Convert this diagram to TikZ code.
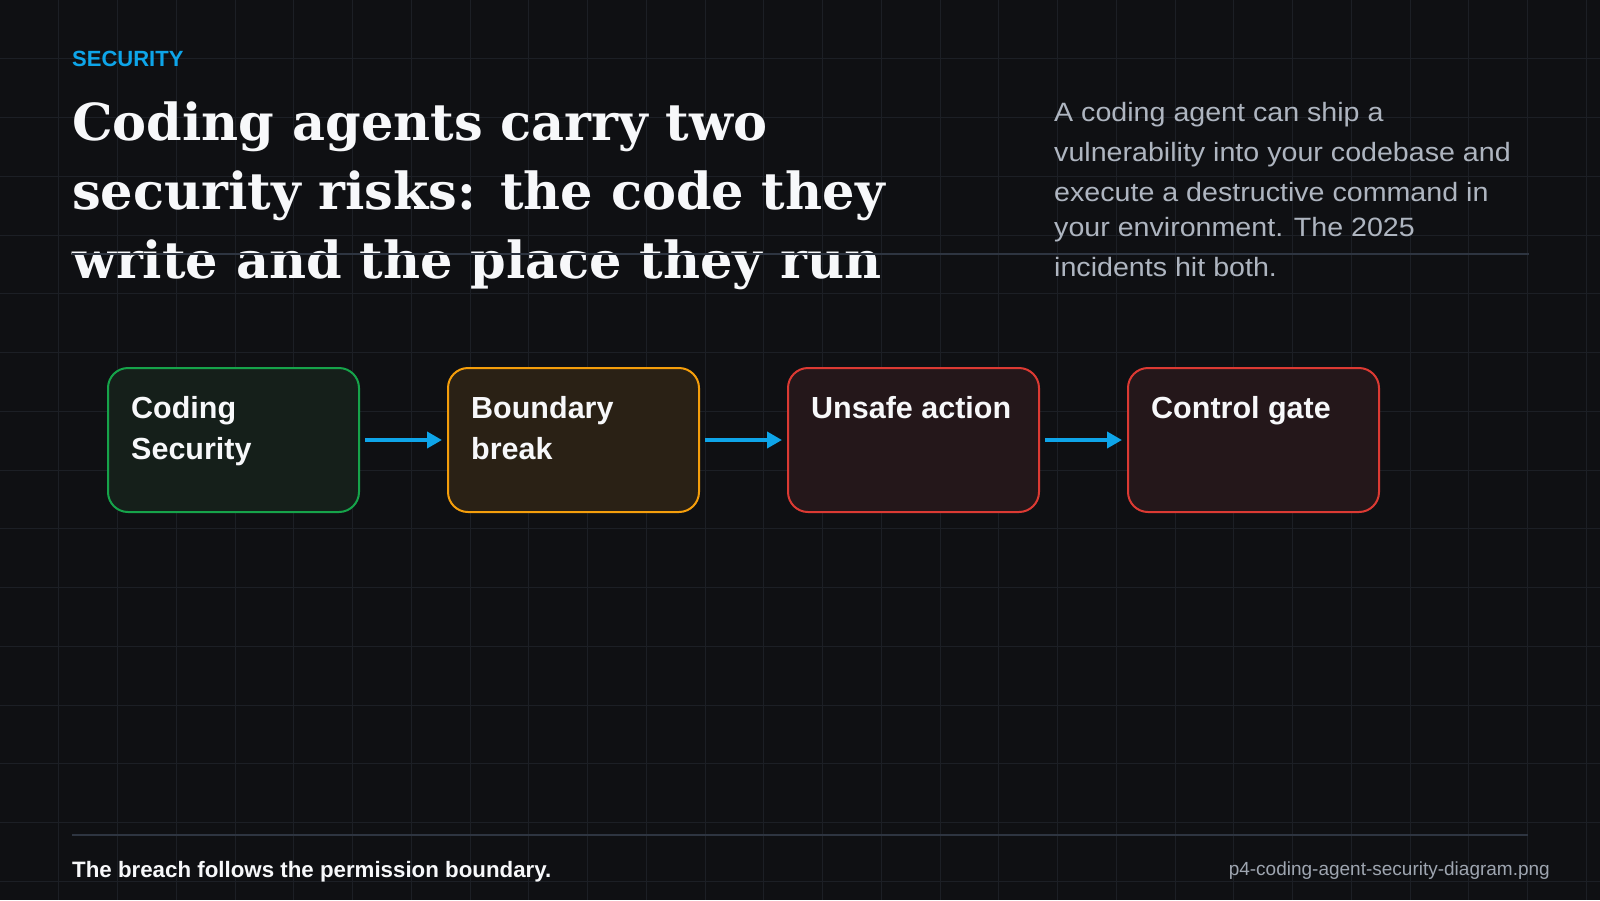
\documentclass[tikz,border=0pt]{standalone}
\usepackage{fontspec}
\setmainfont{Liberation Sans}
\newfontfamily\titlefont{DejaVu Serif}
\newfontfamily\parafont[FakeStretch=1.08]{Liberation Sans}
\usepackage{tikz}
\usetikzlibrary{arrows.meta,positioning}
\definecolor{bgdark}{HTML}{0F1013}
\definecolor{gridgrey}{HTML}{1C1F25}
\definecolor{rulegrey}{HTML}{2E3541}
\definecolor{skyblue}{HTML}{0EA5E9}
\definecolor{paragrey}{HTML}{AEB5C0}
\definecolor{notegrey}{HTML}{9EA5B0}
\definecolor{offwhite}{HTML}{F7F8FA}
\definecolor{okgreen}{HTML}{16A34A}
\definecolor{okgreenbg}{HTML}{151F1A}
\definecolor{warnorange}{HTML}{F59E0B}
\definecolor{warnorangebg}{HTML}{2A2115}
\definecolor{riskred}{HTML}{DC3A33}
\definecolor{riskredbg}{HTML}{24171A}

\begin{document}
\begin{tikzpicture}[x=1pt,y=-1pt,
    gridline/.style={draw=gridgrey,line width=1pt},
    stepbox/.style={rectangle,rounded corners=20pt,line width=2pt,
      minimum width=251pt,minimum height=144pt,inner sep=0pt},
    boxtext/.style={anchor=base west,inner sep=0pt,align=left,text=offwhite,
      font=\fontsize{30.5}{41}\selectfont\bfseries},
    flow/.style={draw=skyblue,line width=4pt,shorten <=5pt,shorten >=5pt,
      -{Triangle[length=15pt,width=16pt]}}]
  % background
  \fill[bgdark] (0,0) rectangle (1600,900);
  \useasboundingbox (0,0) rectangle (1600,900);
  % grid
  \foreach \i in {1,...,27}
    \draw[gridline] (\i*58.75,0) -- (\i*58.75,900);
  \foreach \j in {1,...,15}
    \draw[gridline] (0,\j*58.75) -- (1600,\j*58.75);
  % heading (base of a multi-line node = its last line)
  \node[anchor=base west,inner sep=0pt,text=skyblue,
    font=\fontsize{22}{26}\selectfont\bfseries] (kicker) at (72,66.5) {SECURITY};
  \node[anchor=base west,inner sep=0pt,align=left,text=offwhite,
    font=\titlefont\fontsize{51}{69}\selectfont\bfseries] (title) at (72,278)
    {Coding agents carry two\\security risks: the code they\\write and the place they run};
  \node[anchor=base west,inner sep=0pt,align=left,text=paragrey,
    font=\parafont\fontsize{26.5}{40}\selectfont] (summary) at (1054,276.7)
    {A coding agent can ship a\\vulnerability into your codebase and\\execute a destructive command in\\[-5pt]your environment. The 2025\\incidents hit both.};
  % rules, over the text
  \draw[rulegrey,line width=2pt] (72,254) -- (1529,254);
  \draw[rulegrey,line width=2.5pt] (72,835) -- (1528,835);
  % the four steps
  \node[stepbox,draw=okgreen,fill=okgreenbg] (coding) at (233.5,440) {};
  \node[stepbox,draw=warnorange,fill=warnorangebg,right=87pt of coding] (boundary) {};
  \node[stepbox,draw=riskred,fill=riskredbg,right=87pt of boundary] (unsafe) {};
  \node[stepbox,draw=riskred,fill=riskredbg,right=87pt of unsafe] (gate) {};
  \node[boxtext] (codingtxt) at ([xshift=24pt,yshift=-92pt]coding.north west) {Coding\\Security};
  \node[boxtext] (boundarytxt) at ([xshift=24pt,yshift=-92pt]boundary.north west) {Boundary\\break};
  \node[boxtext] (unsafetxt) at ([xshift=24pt,yshift=-51pt]unsafe.north west) {Unsafe action};
  \node[boxtext] (gatetxt) at ([xshift=24pt,yshift=-51pt]gate.north west) {Control gate};
  % arrows
  \draw[flow] (coding) -- (boundary);
  \draw[flow] (boundary) -- (unsafe);
  \draw[flow] (unsafe) -- (gate);
  % footer
  \node[anchor=base west,inner sep=0pt,text=offwhite,
    font=\fontsize{22.3}{26}\selectfont\bfseries] (takeaway) at (72,877)
    {The breach follows the permission boundary.};
  \node[anchor=base east,inner sep=0pt,text=notegrey,
    font=\fontsize{19}{23}\selectfont] (filename) at (1550,875)
    {p4-coding-agent-security-diagram.png};
\end{tikzpicture}
\end{document}
